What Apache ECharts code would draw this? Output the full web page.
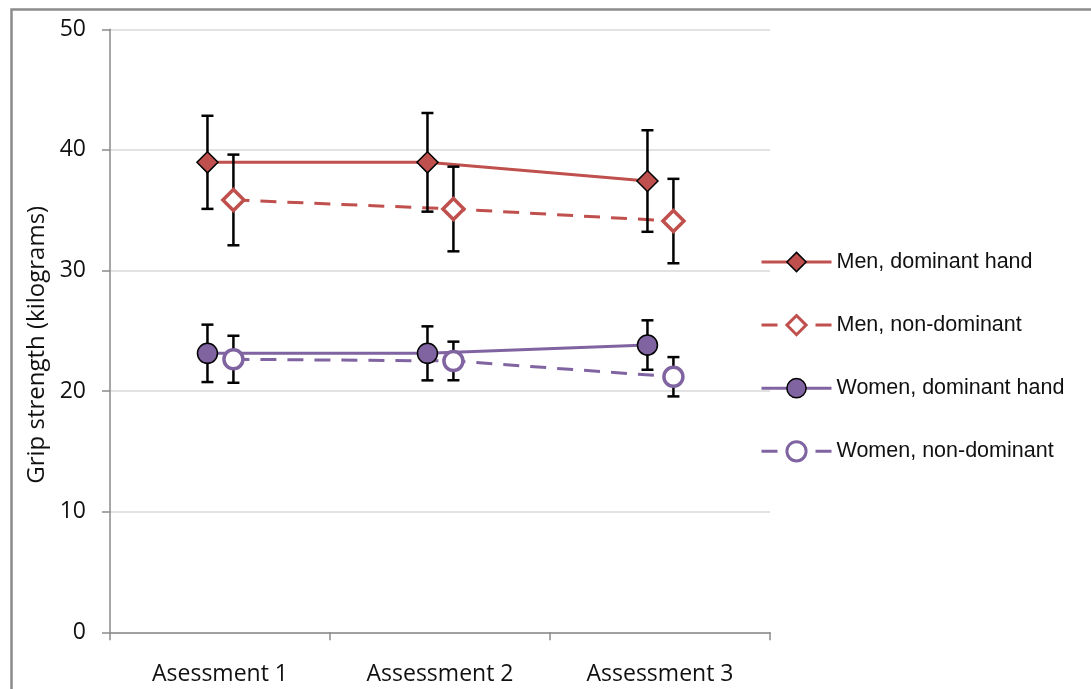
<!DOCTYPE html>
<html>
<head>
<meta charset="utf-8">
<script src="https://cdn.jsdelivr.net/npm/echarts@6/dist/echarts.min.js"></script>
<style>
html,body{margin:0;padding:0;background:#fff;}
#chart{width:1091px;height:689px;}
</style>
</head>
<body>
<div id="chart"></div>
<script>
// ---- data ----
var categories = ['Asessment 1', 'Assessment 2', 'Assessment 3'];
var yTicks = [0, 10, 20, 30, 40, 50];
var seriesNames = ['Men, dominant hand', 'Men, non-dominant', 'Women, dominant hand', 'Women, non-dominant'];
var menDominant = [38.97, 38.97, 37.42];
var menDominantErr = [3.86, 4.09, 4.21];
var menNonDominant = [35.85, 35.1, 34.1];
var menNonDominantErr = [3.76, 3.51, 3.5];
var womenDominant = [23.13, 23.13, 23.82];
var womenDominantErr = [2.38, 2.24, 2.05];
var womenNonDominant = [22.64, 22.5, 21.19];
var womenNonDominantErr = [1.95, 1.6, 1.63];

// ---- styling / layout constants ----
var RED = '#C0504D', PURPLE = '#8064A2';
var OFF_DOM = -0.057, OFF_NON = 0.061;
var FONT = 'Open Sans';

function pts(vals, off) {
  return vals.map(function (v, i) { return [i + 0.5 + off, v]; });
}
function errPts(vals, errs, off) {
  return vals.map(function (v, i) { return [i + 0.5 + off, v - errs[i], v + errs[i]]; });
}

var defs = [
  {name: seriesNames[0], vals: menDominant, errs: menDominantErr, off: OFF_DOM, color: RED, dashed: false, symbol: 'diamond', fill: RED, border: '#000', bw: 1.5, size: 21},
  {name: seriesNames[1], vals: menNonDominant, errs: menNonDominantErr, off: OFF_NON, color: RED, dashed: true, symbol: 'diamond', fill: '#fff', border: RED, bw: 3.5, size: 21},
  {name: seriesNames[2], vals: womenDominant, errs: womenDominantErr, off: OFF_DOM, color: PURPLE, dashed: false, symbol: 'circle', fill: PURPLE, border: '#000', bw: 1.5, size: 20},
  {name: seriesNames[3], vals: womenNonDominant, errs: womenNonDominantErr, off: OFF_NON, color: PURPLE, dashed: true, symbol: 'circle', fill: '#fff', border: PURPLE, bw: 3.5, size: 19}
];

var series = [];
defs.forEach(function (d) {
  series.push({
    name: d.name, type: 'line', xAxisIndex: 1, yAxisIndex: 0,
    data: pts(d.vals, d.off),
    showSymbol: false, symbol: d.symbol, symbolSize: d.size,
    itemStyle: {color: d.fill, borderColor: d.border, borderWidth: d.bw},
    lineStyle: {color: d.color, width: 3, type: d.dashed ? [16, 11] : 'solid'},
    z: 2, silent: true, animation: false
  });
});
defs.forEach(function (d) {
  series.push({
    name: d.name + ' err', type: 'custom', xAxisIndex: 1, yAxisIndex: 0,
    data: errPts(d.vals, d.errs, d.off),
    renderItem: function (params, api) {
      var lo = api.coord([api.value(0), api.value(1)]);
      var hi = api.coord([api.value(0), api.value(2)]);
      var hw = 6;
      var st = {stroke: '#000', lineWidth: 2.5};
      return {type: 'group', children: [
        {type: 'line', shape: {x1: lo[0], y1: lo[1], x2: hi[0], y2: hi[1]}, style: st},
        {type: 'line', shape: {x1: lo[0] - hw, y1: lo[1], x2: lo[0] + hw, y2: lo[1]}, style: st},
        {type: 'line', shape: {x1: hi[0] - hw, y1: hi[1], x2: hi[0] + hw, y2: hi[1]}, style: st}
      ]};
    },
    z: 3, silent: true, animation: false
  });
});
defs.forEach(function (d) {
  series.push({
    name: d.name + ' marker', type: 'scatter', xAxisIndex: 1, yAxisIndex: 0,
    data: pts(d.vals, d.off),
    symbol: d.symbol, symbolSize: d.size,
    itemStyle: {color: d.fill, borderColor: d.border, borderWidth: d.bw, opacity: 1},
    z: 4, silent: true, animation: false
  });
});

var legendData = defs.map(function (d) {
  return {name: d.name, itemStyle: {color: d.fill, borderColor: d.border, borderWidth: d.dashed ? 3 : 1.5}};
});

var chart = echarts.init(document.getElementById('chart'), null, {renderer: 'canvas'});
chart.setOption({
  animation: false,
  backgroundColor: '#fff',
  grid: {left: 110, right: 321, top: 29.3, bottom: 56.7, containLabel: false},
  graphic: [{
    type: 'rect', left: 9, top: 7, silent: true, z: -1,
    shape: {width: 1110, height: 720},
    style: {fill: 'none', stroke: '#8c8c8c', lineWidth: 2.5}
  }],
  legend: {
    data: legendData,
    orient: 'vertical', left: 760, top: 251, padding: 0,
    itemWidth: 70, itemHeight: 24, itemGap: 41,
    lineStyle: {width: 3},
    textStyle: {fontFamily: 'Liberation Sans', fontSize: 21.5, color: '#111'},
    selectedMode: false
  },
  xAxis: [{
    type: 'category', data: categories, boundaryGap: true,
    axisLine: {lineStyle: {color: '#8a8a8a', width: 1.5}},
    axisTick: {show: true, length: 8, lineStyle: {color: '#8a8a8a', width: 1.5}},
    axisLabel: {fontFamily: FONT, fontSize: 23, color: '#111', margin: 31},
    splitLine: {show: false}
  }, {
    type: 'value', min: 0, max: 3, show: false
  }],
  yAxis: [{
    type: 'value', min: yTicks[0], max: yTicks[yTicks.length - 1], interval: yTicks[1] - yTicks[0],
    name: 'Grip strength (kilograms)', nameLocation: 'middle', nameGap: 61,
    nameTextStyle: {fontFamily: FONT, fontSize: 24, color: '#111', padding: [0, 28, 0, 0]},
    axisLine: {show: true, lineStyle: {color: '#8a8a8a', width: 1.5}},
    axisTick: {show: true, length: 8, lineStyle: {color: '#8a8a8a', width: 1.5}},
    axisLabel: {fontFamily: FONT, fontSize: 23, color: '#111', margin: 24},
    splitLine: {show: true, lineStyle: {color: '#d9d9d9', width: 1.5}}
  }],
  series: series
});
</script>
</body>
</html>
